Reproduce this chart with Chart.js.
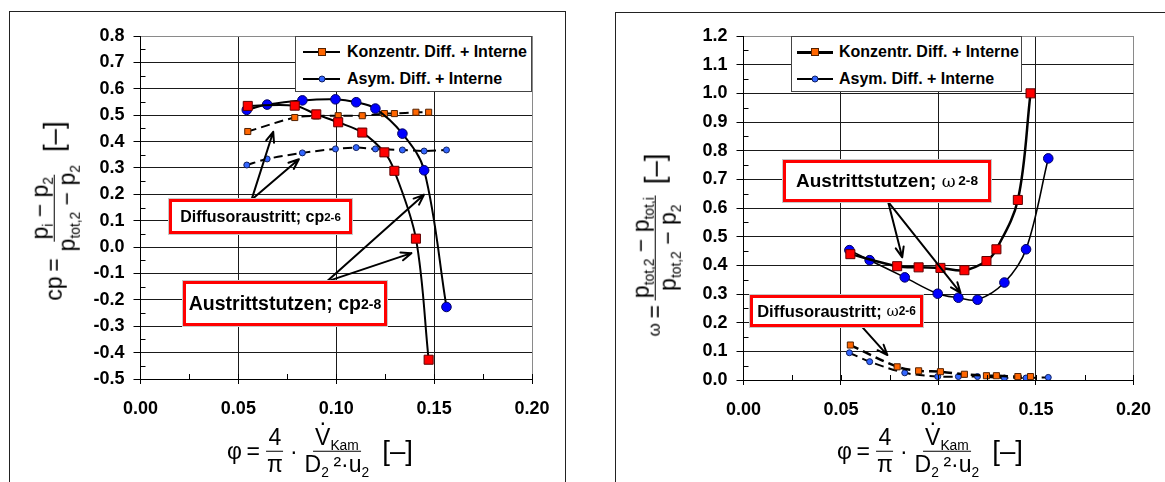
<!DOCTYPE html>
<html>
<head>
<meta charset="utf-8">
<script src="https://cdn.jsdelivr.net/npm/chart.js@4.4.1/dist/chart.umd.min.js"></script>
<style>
  body { margin: 0; width: 1165px; height: 482px; background: #fff; position: relative; overflow: hidden;
         font-family: 'Liberation Sans', Arial, sans-serif; color: #000; }
  canvas { position: absolute; }
  .frame { position: absolute; border: 1px solid #222; border-bottom: none; }
  .legend { position: absolute; background: #fff; border: 1px solid #444; box-sizing: border-box;
            font-weight: bold; font-size: 16px; }
  .legend .row { position: absolute; left: 0; height: 20px; display: flex; align-items: center; white-space: nowrap; }
  .sample { position: relative; height: 2px; background: #000; }
  .sample i { position: absolute; left: 50%; top: 50%; transform: translate(-50%, -50%); box-sizing: border-box; }
  .mk-sq { width: 8px; height: 8px; background: #ff6600; border: 1px solid #552200; }
  .mk-ci { width: 7px; height: 7px; background: #3366ff; border: 1px solid #102060; border-radius: 50%; }
  .note { position: absolute; background: #fff; border: 3px solid #ff0000; box-sizing: border-box;
          display: flex; align-items: center; justify-content: center; font-weight: bold; white-space: nowrap;
          box-shadow: 0 0 0 1px #c8c8c8; }
  .note sub { font-size: 0.72em; vertical-align: -0.2em; line-height: 0; }
  .note .w { font-weight: normal; font-family: 'DejaVu Serif', serif; }
  .math { position: absolute; display: flex; align-items: center; white-space: nowrap; font-size: 23px;
          transform: translate(-50%, -50%); }
  .math.rot { transform: translate(-50%, -50%) rotate(-90deg); }
  .frac { display: inline-flex; flex-direction: column; align-items: center; margin: 0 5px; }
  .frac > span { display: block; line-height: 1.12; padding: 0 2px; }
  .frac > span:first-child { border-bottom: 1.5px solid #000; }
  .math sub { font-size: 0.6em; vertical-align: -0.35em; line-height: 0; }
  .br { font-size: 1.2em; margin-left: 6px; }
  .vdot { position: relative; }
  .vdot::after { content: '\00B7'; position: absolute; left: 50%; top: -0.62em; transform: translateX(-50%); }
</style>
</head>
<body>

<div class="frame" style="left:9px; top:11px; width:555px; height:480px;"></div>
<div class="frame" style="left:615px; top:12px; width:600px; height:480px;"></div>

<canvas id="cpChart" width="555" height="470" style="left:10px; top:12px;"></canvas>
<canvas id="omegaChart" width="549" height="470" style="left:616px; top:12px;"></canvas>

<!-- axis titles -->
<div class="math rot" style="left:54px; top:211px;">
  cp&thinsp;=<span class="frac"><span>p<sub>i</sub> &minus; p<sub>2</sub></span><span>p<sub>tot,2</sub> &minus; p<sub>2</sub></span></span><span class="br">[&ndash;]</span>
</div>
<div class="math rot" style="left:655px; top:245px;">
  <span style="font-size:17px">&omega;</span>&thinsp;=<span class="frac"><span>p<sub>tot,2</sub> &minus; p<sub>tot,i</sub></span><span>p<sub>tot,2</sub> &minus; p<sub>2</sub></span></span><span class="br">[&ndash;]</span>
</div>
<div class="math" style="left:320px; top:451px;">
  &phi;&thinsp;=<span class="frac"><span>4</span><span style="border:none">&pi;</span></span>&middot;<span class="frac"><span><span class="vdot">V</span><sub>Kam</sub></span><span>D<sub>2</sub>&thinsp;&sup2;&middot;u<sub>2</sub></span></span><span class="br">[&ndash;]</span>
</div>
<div class="math" style="left:930px; top:451px;">
  &phi;&thinsp;=<span class="frac"><span>4</span><span style="border:none">&pi;</span></span>&middot;<span class="frac"><span><span class="vdot">V</span><sub>Kam</sub></span><span>D<sub>2</sub>&thinsp;&sup2;&middot;u<sub>2</sub></span></span><span class="br">[&ndash;]</span>
</div>

<!-- legends -->
<div class="legend" style="left:295px; top:36px; width:237px; height:56px;">
  <div class="row" style="top:5px;"><span class="sample" style="width:37px; margin:0 7px 0 7px;"><i class="mk-sq"></i></span>Konzentr. Diff. + Interne</div>
  <div class="row" style="top:32px;"><span class="sample" style="width:37px; margin:0 7px 0 7px;"><i class="mk-ci"></i></span>Asym. Diff. + Interne</div>
</div>
<div class="legend" style="left:791px; top:36px; width:231px; height:56px;">
  <div class="row" style="top:5px;"><span class="sample" style="width:36px; height:3px; margin:0 6px 0 5px;"><i class="mk-sq"></i></span>Konzentr. Diff. + Interne</div>
  <div class="row" style="top:32px;"><span class="sample" style="width:36px; margin:0 6px 0 5px;"><i class="mk-ci"></i></span>Asym. Diff. + Interne</div>
</div>

<!-- labels with arrows -->
<div class="note" style="left:169px; top:199px; width:183px; height:35px; font-size:16px;">Diffusoraustritt; cp<sub>2-6</sub></div>
<div class="note" style="left:183px; top:281px; width:204px; height:45px; font-size:19.5px;">Austrittstutzen; cp<sub>2-8</sub></div>
<div class="note" style="left:783px; top:160px; width:208px; height:42px; font-size:19px;">Austrittstutzen;&nbsp;<span class="w" style="font-size:17px">&omega;</span><sub>&thinsp;2-8</sub></div>
<div class="note" style="left:750px; top:295px; width:173px; height:32px; font-size:16.5px;">Diffusoraustritt;&nbsp;<span class="w" style="font-size:15px">&omega;</span><sub>2-6</sub></div>

<script>
// flow coefficient phi of the measured operating points
const phiKonz = [0.0548, 0.0788, 0.0898, 0.1010, 0.1133, 0.1246, 0.1297, 0.1407, 0.1472];
const phiAsym = [0.0543, 0.0647, 0.0827, 0.0996, 0.1102, 0.1200, 0.1338, 0.1449, 0.1563];

// pressure recovery cp (2-8 = Austrittstutzen, 2-6 = Diffusoraustritt)
const cpKonz28 = [0.535, 0.536, 0.503, 0.473, 0.434, 0.359, 0.289, 0.032, -0.427];
const cpAsym28 = [0.520, 0.540, 0.556, 0.560, 0.549, 0.525, 0.430, 0.291, -0.227];
const cpKonz26 = [0.438, 0.491, 0.497, 0.498, 0.498, 0.506, 0.506, 0.511, 0.511];
const cpAsym26 = [0.311, 0.334, 0.357, 0.372, 0.377, 0.372, 0.368, 0.364, 0.368];

// loss coefficient omega
const omegaKonz28 = [0.439, 0.397, 0.393, 0.391, 0.383, 0.415, 0.456, 0.628, 1.000];
const omegaAsym28 = [0.453, 0.418, 0.358, 0.301, 0.287, 0.280, 0.340, 0.456, 0.773];
const omegaKonz26 = [0.122, 0.046, 0.032, 0.029, 0.020, 0.015, 0.015, 0.012, 0.012];
const omegaAsym26 = [0.095, 0.064, 0.025, 0.012, 0.012, 0.012, 0.007, 0.007, 0.009];

const phiTicks = { min: 0, max: 0.2, step: 0.05 };
const cpTicks = { min: -0.5, max: 0.8, step: 0.1 };
const omegaTicks = { min: 0, max: 1.2, step: 0.1 };

Chart.defaults.font.family = "'Liberation Sans', Arial, sans-serif";
Chart.defaults.color = '#000';

const toPoints = (xs, ys) => xs.map((x, i) => ({ x: x, y: ys[i] }));

function bigSeries(label, xs, ys, style, width) {
  const isRed = style === 'rect';
  return {
    label: label,
    data: toPoints(xs, ys),
    showLine: true,
    tension: 0.35,
    borderColor: '#000',
    borderWidth: width,
    pointStyle: style,
    pointRadius: isRed ? 6.4 : 4.8,
    pointBackgroundColor: isRed ? '#ff0000' : '#0000ff',
    pointBorderColor: isRed ? '#600000' : '#000060',
    pointBorderWidth: 1,
    order: 1
  };
}

function smallSeries(label, xs, ys, style, width) {
  const isSq = style === 'rect';
  return {
    label: label,
    data: toPoints(xs, ys),
    showLine: true,
    tension: 0.3,
    borderColor: '#000',
    borderWidth: width,
    borderDash: [9, 5],
    pointStyle: style,
    pointRadius: isSq ? 4.3 : 3,
    pointBackgroundColor: isSq ? '#ff6600' : '#3366ff',
    pointBorderColor: isSq ? '#552200' : '#102060',
    pointBorderWidth: 1,
    order: 2
  };
}

// small inside ticks on both axes, the x major ticks cross the axis
function minorTicks(yStep) {
  return {
    id: 'minorTicks',
    afterDraw(chart) {
      const { ctx, chartArea: a, scales: { x, y } } = chart;
      ctx.save();
      ctx.strokeStyle = '#000';
      ctx.lineWidth = 1;
      ctx.beginPath();
      for (let v = 0.025; v < 0.2; v += 0.025) {
        const px = Math.round(x.getPixelForValue(v)) + 0.5;
        ctx.moveTo(px, a.bottom);
        ctx.lineTo(px, a.bottom - 5);
      }
      for (let v = y.min + yStep / 2; v < y.max; v += yStep) {
        const py = Math.round(y.getPixelForValue(v)) + 0.5;
        ctx.moveTo(a.left, py);
        ctx.lineTo(a.left + 5, py);
      }
      ctx.stroke();
      ctx.restore();
    }
  };
}

function arrows(list) {
  return {
    id: 'arrows',
    afterDatasetsDraw(chart) {
      const { ctx, scales: { x, y } } = chart;
      ctx.save();
      ctx.strokeStyle = '#000';
      ctx.lineWidth = 2;
      ctx.lineCap = 'round';
      list.forEach(([x0, y0, x1, y1]) => {
        const ax = x.getPixelForValue(x0), ay = y.getPixelForValue(y0);
        const bx = x.getPixelForValue(x1), by = y.getPixelForValue(y1);
        const ang = Math.atan2(by - ay, bx - ax);
        ctx.beginPath();
        ctx.moveTo(ax, ay);
        ctx.lineTo(bx, by);
        [-1, 1].forEach(s => {
          ctx.moveTo(bx, by);
          ctx.lineTo(bx - 11 * Math.cos(ang + s * 0.38), by - 11 * Math.sin(ang + s * 0.38));
        });
        ctx.stroke();
      });
      ctx.restore();
    }
  };
}

function makeChart(id, datasets, yTicks, yWidth, xHeight, padRight, arrowList) {
  const fmtY = v => (Math.abs(v) < 1e-9 ? 0 : v).toFixed(1);
  return new Chart(document.getElementById(id), {
    type: 'scatter',
    data: { datasets: datasets },
    options: {
      responsive: false,
      animation: false,
      layout: { padding: { left: 0, top: 24, right: padRight, bottom: 0 } },
      plugins: { legend: { display: false }, tooltip: { enabled: false } },
      scales: {
        x: {
          type: 'linear',
          min: phiTicks.min,
          max: phiTicks.max,
          afterFit(scale) { scale.height = xHeight; },
          ticks: {
            stepSize: phiTicks.step,
            autoSkip: false,
            maxRotation: 0,
            padding: 14,
            font: { size: 18, weight: 'bold' },
            callback: v => v.toFixed(2)
          },
          grid: {
            color: c => (c.tick && c.tick.value >= phiTicks.max - 1e-9 ? '#8a8a8a' : '#1a1a1a'),
            lineWidth: 1,
            tickLength: 5,
            tickColor: '#000'
          },
          border: { color: '#000', width: 1 }
        },
        y: {
          type: 'linear',
          min: yTicks.min,
          max: yTicks.max,
          afterFit(scale) { scale.width = yWidth; },
          ticks: {
            stepSize: yTicks.step,
            autoSkip: false,
            padding: 9,
            font: { size: 18, weight: 'bold' },
            callback: fmtY
          },
          grid: {
            color: c => (c.tick && c.tick.value >= yTicks.max - 1e-9 ? '#8a8a8a' : '#1a1a1a'),
            lineWidth: 1,
            tickLength: 7,
            tickColor: '#000'
          },
          border: { color: '#000', width: 1 }
        }
      }
    },
    plugins: [minorTicks(yTicks.step), arrows(arrowList)]
  });
}

// arrows from the labels to the curves, in data units (phi, value)
const cpArrows = [
  [0.0567, 0.179, 0.0678, 0.437],
  [0.0567, 0.179, 0.0809, 0.333],
  [0.0950, -0.131, 0.1448, 0.198],
  [0.0950, -0.131, 0.1384, -0.023]
];
const omegaArrows = [
  [0.0742, 0.621, 0.0814, 0.428],
  [0.0742, 0.621, 0.1113, 0.304],
  [0.0607, 0.186, 0.0738, 0.087]
];

makeChart('cpChart', [
  bigSeries('Konzentr. Diff. + Interne cp 2-8', phiKonz, cpKonz28, 'rect', 2),
  bigSeries('Asym. Diff. + Interne cp 2-8', phiAsym, cpAsym28, 'circle', 2),
  smallSeries('Konzentr. Diff. + Interne cp 2-6', phiKonz, cpKonz26, 'rect', 2),
  smallSeries('Asym. Diff. + Interne cp 2-6', phiAsym, cpAsym26, 'circle', 2)
], cpTicks, 130.5, 103, 33, cpArrows);

makeChart('omegaChart', [
  bigSeries('Konzentr. Diff. + Interne omega 2-8', phiKonz, omegaKonz28, 'rect', 2.5),
  bigSeries('Asym. Diff. + Interne omega 2-8', phiAsym, omegaAsym28, 'circle', 1.6),
  smallSeries('Konzentr. Diff. + Interne omega 2-6', phiKonz, omegaKonz26, 'rect', 2.5),
  smallSeries('Asym. Diff. + Interne omega 2-6', phiAsym, omegaAsym26, 'circle', 2)
], omegaTicks, 127.5, 102, 27.5, omegaArrows);
</script>
</body>
</html>
